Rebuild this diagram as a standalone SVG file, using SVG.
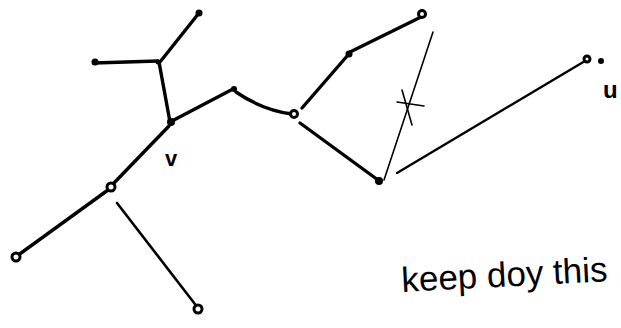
<svg xmlns="http://www.w3.org/2000/svg" width="621" height="328" viewBox="0 0 621 328">
<style>
.e{fill:none;stroke:#000;stroke-width:3.4;stroke-linecap:round;stroke-linejoin:round}
.t{fill:none;stroke:#000;stroke-width:1.6;stroke-linecap:round}
.n{fill:#000}
.o{fill:#fff;stroke:#000;stroke-width:3}
.l{font-family:"Liberation Sans",Arial,sans-serif;fill:#000}
</style>
<rect width="621" height="328" fill="#fff"/>
<g id="connectors">
<path class="e" d="M199,13 L160,62"/>
<path class="e" d="M94,63 L158,61"/>
<path class="e" d="M159,62 L170,122"/>
<path class="e" d="M172,121 L233,89"/>
<path class="e" d="M236,92 Q262,110 292,114"/>
<path class="e" d="M302,108 L348,55"/>
<path class="e" d="M350,52 L421,17"/>
<path class="e" d="M300,123 L378,180"/>
<path class="t" d="M384,180 L433,32"/>
<path class="t" d="M397,102 L424,106 M402,90 L412,125"/>
<path class="e" style="stroke-width:2.4" d="M397,173 L585,61"/>
<path class="e" d="M169,126 L113,184"/>
<path class="e" d="M108,190 L17,256"/>
<path class="e" style="stroke-width:2.6" d="M117,203 L198,308"/>
</g>
<g id="nA"><circle class="n" cx="199" cy="13" r="3.5"/></g>
<g id="nB"><circle class="n" cx="95" cy="62" r="3.5"/></g>
<g id="nC"><circle class="n" cx="158" cy="62" r="2.5"/></g>
<g id="nV"><circle class="n" cx="171" cy="122" r="4"/><text class="l" x="165" y="166" font-size="22" font-weight="bold">v</text></g>
<g id="nD"><circle class="n" cx="234" cy="89" r="3"/></g>
<g id="nE"><circle class="o" cx="294" cy="114" r="3.5"/></g>
<g id="nF"><circle class="n" cx="349" cy="54" r="3.5"/></g>
<g id="nG"><circle class="o" cx="422" cy="14" r="3.5"/></g>
<g id="nH"><circle class="n" cx="379" cy="181" r="4"/></g>
<g id="nU"><circle class="o" cx="587" cy="59" r="3"/><circle class="n" cx="601" cy="61" r="3"/><text class="l" x="603" y="98" font-size="24" font-weight="bold">u</text></g>
<g id="nJ"><circle class="o" cx="111" cy="187" r="4"/></g>
<g id="nK"><circle class="o" cx="16" cy="257" r="4"/></g>
<g id="nL"><circle class="o" cx="198" cy="309" r="4"/></g>
<text class="l" x="402" y="292" font-size="35" transform="rotate(-3 402 292)">keep doy this</text>
</svg>
